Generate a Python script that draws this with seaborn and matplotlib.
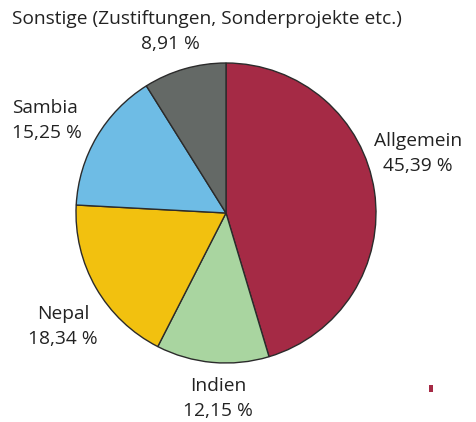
import matplotlib
matplotlib.use("Agg")
import matplotlib.pyplot as plt
import seaborn as sns
from matplotlib.patches import Rectangle

# data
labels = ["Allgemein", "Indien", "Nepal", "Sambia",
          "Sonstige (Zustiftungen, Sonderprojekte etc.)"]
shares = [45.39, 12.15, 18.34, 15.25, 8.91]
colors = ["#A52A45", "#A9D5A0", "#F2C10F", "#6EBCE5", "#646966"]

sns.set_style("white")
plt.rcParams["font.family"] = ["Open Sans", "DejaVu Sans"]

W, H = 477, 422
fig = plt.figure(figsize=(W / 100, H / 100), dpi=100)
ax = fig.add_axes([0, 0, 1, 1])

# pie drawn clockwise from 12 o'clock
ax.pie(shares, colors=colors, startangle=90, counterclock=False,
       center=(226, H - 213), radius=150, frame=True,
       wedgeprops=dict(edgecolor="#2b2b2b", linewidth=1.0))
ax.set_xlim(0, W)
ax.set_ylim(0, H)
ax.axis("off")

def pct(v):
    return f"{v:.2f}".replace(".", ",") + " %"

# label positions (pixels from top-left) and alignment
pos = [(418, 141, "center"), (218, 386, "center"), (63, 314, "center"),
       (12, 108, "left"), (12, 19, "left")]
fs = 13.8
tc = "#222222"
for lab, v, (x, y, ha) in zip(labels, shares, pos):
    if lab.startswith("Sonstige"):
        ax.text(x, H - y, lab, ha="left", va="center", fontsize=fs, color=tc)
        ax.text(170, H - (y + 25), pct(v), ha="center", va="center", fontsize=fs, color=tc)
    else:
        ax.text(x, H - y, lab, ha=ha, va="center", fontsize=fs, color=tc)
        ax.text(x, H - (y + 25), pct(v), ha=ha, va="center", fontsize=fs, color=tc)

# small marker in the corner
ax.add_patch(Rectangle((429, H - 392), 4, 7, color="#A52A45", lw=0))

fig.savefig("out.png", dpi=100)
